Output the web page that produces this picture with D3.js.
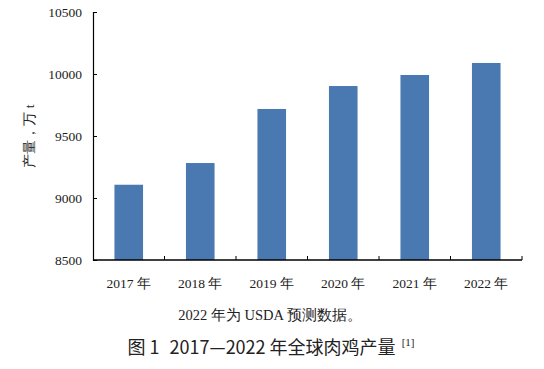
<!DOCTYPE html>
<html>
<head>
<meta charset="utf-8">
<script src="https://cdn.jsdelivr.net/npm/d3@7"></script>
<style>
  body { margin: 0; background: #fff; }
  svg text { fill: #222; }
</style>
</head>
<body>
<div id="chart"></div>
<script>
var years = ['2017 年', '2018 年', '2019 年', '2020 年', '2021 年', '2022 年'];
var output = [9107, 9282, 9718, 9903, 9992, 10089];
var yTicks = [8500, 9000, 9500, 10000, 10500];

var serif = "'Liberation Serif', 'Times New Roman', serif";
var width = 544, height = 369;
var margin = { left: 93, top: 12, right: 22, bottom: 109 };

var svg = d3.select('#chart').append('svg')
  .attr('width', width)
  .attr('height', height);

var x = d3.scaleBand()
  .domain(years)
  .range([margin.left, width - margin.right]);

var y = d3.scaleLinear()
  .domain([8500, 10500])
  .range([height - margin.bottom, margin.top]);

var barW = x.bandwidth() * 0.4;

// bars
svg.append('g')
  .selectAll('rect')
  .data(output)
  .enter()
  .append('rect')
  .attr('x', function(d, i) { return x(years[i]) + x.bandwidth() / 2 - barW / 2; })
  .attr('y', function(d) { return y(d); })
  .attr('width', barW)
  .attr('height', function(d) { return y(8500) - y(d); })
  .style('fill', '#4a79b2');

// y axis, ticks pointing inside
var yAxis = svg.append('g')
  .attr('transform', 'translate(' + margin.left + ',0)')
  .call(d3.axisRight(y).tickValues(yTicks).tickSize(4).tickFormat(d3.format('d')));
yAxis.attr('font-family', null);
yAxis.select('.domain').attr('stroke', '#000').attr('stroke-width', 1.2);
yAxis.selectAll('.tick line').attr('stroke', '#000');
yAxis.selectAll('.tick text')
  .attr('x', -11)
  .attr('text-anchor', 'end')
  .attr('font-family', serif)
  .style('font-size', '13.5px');

// x axis, boundary ticks pointing up
var xAxis = svg.append('g')
  .attr('transform', 'translate(0,' + y(8500) + ')');
xAxis.append('line')
  .attr('x1', margin.left)
  .attr('x2', width - margin.right)
  .attr('stroke', '#000')
  .attr('stroke-width', 1.4);
xAxis.selectAll('.bound')
  .data(years)
  .enter()
  .append('line')
  .attr('x1', function(d) { return x(d) + x.bandwidth(); })
  .attr('x2', function(d) { return x(d) + x.bandwidth(); })
  .attr('y1', 0)
  .attr('y2', -4)
  .attr('stroke', '#000');
xAxis.selectAll('text')
  .data(years)
  .enter()
  .append('text')
  .attr('x', function(d) { return x(d) + x.bandwidth() / 2; })
  .attr('y', 28)
  .attr('text-anchor', 'middle')
  .attr('font-family', serif)
  .style('font-size', '13.5px')
  .text(function(d) { return d; });

// y axis title
svg.append('text')
  .attr('transform', 'translate(34,' + (y(9500)) + ') rotate(-90)')
  .attr('text-anchor', 'middle')
  .attr('font-family', serif)
  .style('font-size', '13.5px')
  .text('产量，万 t');

// note
svg.append('text')
  .attr('x', 270)
  .attr('y', 320)
  .attr('text-anchor', 'middle')
  .attr('font-family', serif)
  .style('font-size', '14.5px')
  .text('2022 年为 USDA 预测数据。');

// caption
var cap = svg.append('text')
  .attr('x', 271)
  .attr('y', 354)
  .attr('text-anchor', 'middle')
  .attr('font-family', "'Noto Sans CJK SC', sans-serif")
  .style('font-size', '18px')
  .style('font-weight', 400);
cap.append('tspan').text('图 1');
cap.append('tspan').attr('dx', 10).text('2017—2022 年全球肉鸡产量');
cap.append('tspan')
  .attr('dx', 6)
  .attr('dy', -8)
  .attr('font-family', serif)
  .style('font-size', '11px')
  .text('[1]');
</script>
</body>
</html>
